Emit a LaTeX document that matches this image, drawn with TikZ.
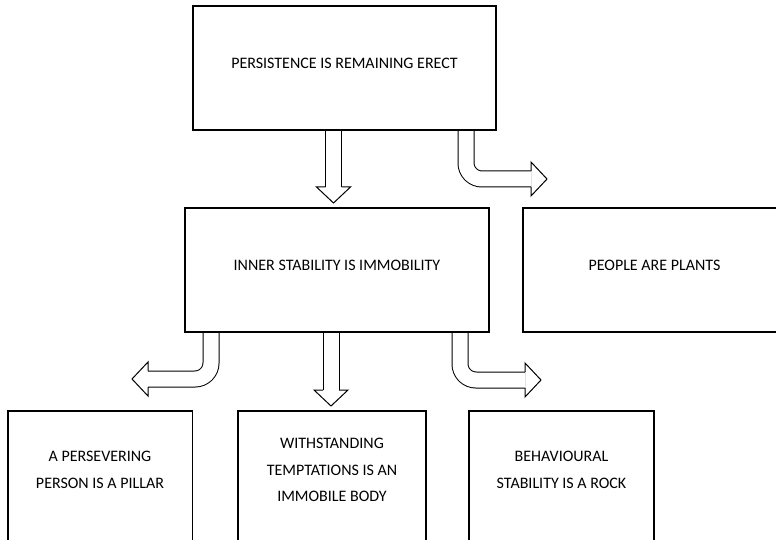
\documentclass[tikz,border=0pt]{standalone}
\usepackage{fontspec}
\setmainfont{Carlito}
\usetikzlibrary{backgrounds}
\tikzset{
	concept/.style={draw, line width=1.5pt, text depth=9pt, font=\fontsize{16}{26.5}\selectfont},
	caption/.style={align=center, font=\fontsize{16}{26.5}\selectfont},
	shaft/.style={line width=1pt, double distance=15pt, rounded corners=16pt},
	headtip/.pic={\draw[line width=1pt, line join=miter] (-16,8) -- (-16,17) -- (0,0) -- (-16,-17) -- (-16,-8);}
}

\begin{document}
\begin{tikzpicture}[x=1pt, y=-1pt]
		\useasboundingbox (0,0) rectangle (776,540);
		\clip (0,0) rectangle (776,540);
		% top row
		\node[concept, minimum width=303pt, minimum height=124pt](erect) at (344.5,68){PERSISTENCE IS REMAINING ERECT};
		% middle row
		\node[concept, minimum width=304pt, minimum height=124pt](immob) at (337,270){INNER STABILITY IS IMMOBILITY};
		\node[concept, minimum width=263pt, minimum height=124pt](plants) at (654.5,270){PEOPLE ARE PLANTS};
		% bottom row, cut off at the lower edge
		\node[concept, minimum width=184.5pt, minimum height=200pt, anchor=north](pillar) at (100,410){};
		\node[concept, minimum width=188pt, minimum height=200pt, anchor=north](body) at (332,410){};
		\node[concept, minimum width=185pt, minimum height=200pt, anchor=north](rock) at (561.5,410){};
		\node[caption](pillartext) at (100,470){A PERSEVERING\\PERSON IS A PILLAR};
		\node[caption](bodytext) at (332,470){WITHSTANDING\\TEMPTATIONS IS AN\\IMMOBILE BODY};
		\node[caption](rocktext) at (561.5,470){BEHAVIOURAL\\STABILITY IS A ROCK};
		% arrow tips
		\coordinate(immobtip) at (333.5,203);
		\coordinate(plantstip) at (547,179);
		\coordinate(pillartip) at (132,379);
		\coordinate(bodytip) at (331,406);
		\coordinate(rocktip) at (541,380);
		\begin{pgfonlayer}{background}
			\draw[shaft](erect.south -| immobtip) -- ([yshift=16pt]immobtip);
			\draw[shaft]([xshift=121.5pt]erect.south) |- ([xshift=-16pt]plantstip);
			\draw[shaft]([xshift=-126pt]immob.south) |- ([xshift=16pt]pillartip);
			\draw[shaft](immob.south -| bodytip) -- ([yshift=16pt]bodytip);
			\draw[shaft]([xshift=123pt]immob.south) |- ([xshift=-16pt]rocktip);
		\end{pgfonlayer}
		\pic[rotate=-90] at (immobtip){headtip};
		\pic at (plantstip){headtip};
		\pic[rotate=180] at (pillartip){headtip};
		\pic[rotate=-90] at (bodytip){headtip};
		\pic at (rocktip){headtip};
	\end{tikzpicture}
\end{document}
